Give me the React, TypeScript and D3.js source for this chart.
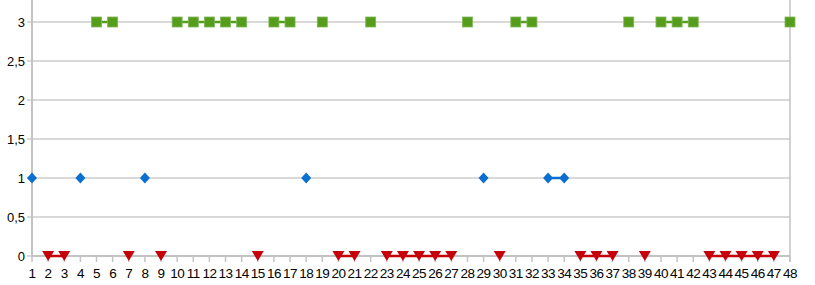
import React from "react";
import * as d3 from "d3";

const categories = ["1","2","3","4","5","6","7","8","9","10","11","12","13","14","15","16","17","18","19","20","21","22","23","24","25","26","27","28","29","30","31","32","33","34","35","36","37","38","39","40","41","42","43","44","45","46","47","48"];
const _ = null;
// value per category, null = empty cell
const greenSeries: (number | null)[] = [_,_,_,_,3,3,_,_,_,3,3,3,3,3,_,3,3,_,3,_,_,3,_,_,_,_,_,3,_,_,3,3,_,_,_,_,_,3,_,3,3,3,_,_,_,_,_,3];
const blueSeries: (number | null)[] = [1,_,_,1,_,_,_,1,_,_,_,_,_,_,_,_,_,1,_,_,_,_,_,_,_,_,_,_,1,_,_,_,1,1,_,_,_,_,_,_,_,_,_,_,_,_,_,_];
const redSeries: (number | null)[] = [_,0,0,_,_,_,0,_,0,_,_,_,_,_,0,_,_,_,_,0,0,_,0,0,0,0,0,_,_,0,_,_,_,_,0,0,0,_,0,_,_,_,0,0,0,0,0,_];
const yTicks = [0, 0.5, 1, 1.5, 2, 2.5, 3];

const W = 815, H = 285;
const left = 32, right = 790, top = 0, bottom = 256;

export default function App() {
  const x = d3.scalePoint<string>().domain(categories).range([left, right]).padding(0);
  const y = d3.scaleLinear().domain([0, 3]).range([bottom, 22]);
  const fmt = (v: number) => String(v).replace(".", ",");

  const mkLine = () =>
    d3.line<number | null>()
      .defined((d) => d !== null)
      .x((_d, i) => x(categories[i])!)
      .y((d) => y(d as number));

  const green = "#579d1c";
  const blue = "#0a6fd0";
  const red = "#c5000b";

  return (
    <svg width={W} height={H} style={{ position: "absolute", left: 0, top: 0, fontFamily: "'Liberation Sans', Arial, sans-serif" }}>
      <rect x={0} y={0} width={W} height={H} fill="#fff" />
      {yTicks.map((t) => (
        <g key={t}>
          <line x1={left - 5} x2={right} y1={y(t)} y2={y(t)} stroke="#b3b3b3" strokeWidth={1.2} />
          <text x={25} y={y(t) + 4.5} textAnchor="end" fontSize={13} fill="#000">{fmt(t)}</text>
        </g>
      ))}
      <line x1={left} x2={left} y1={top} y2={bottom + 1} stroke="#c3c3c3" strokeWidth={2} />
      <line x1={right} x2={right} y1={top} y2={bottom + 6} stroke="#c3c3c3" strokeWidth={1.5} />
      <line x1={left} x2={right} y1={bottom} y2={bottom} stroke="#c3c3c3" strokeWidth={2} />
      {categories.map((c) => (
        <g key={c}>
          <line x1={x(c)!} x2={x(c)!} y1={bottom} y2={bottom + 6} stroke="#c3c3c3" strokeWidth={1.5} />
          <text x={x(c)!} y={278} textAnchor="middle" fontSize={13.5} fill="#000" letterSpacing={-0.5}>{c}</text>
        </g>
      ))}
      <path d={mkLine()(greenSeries) || ""} fill="none" stroke={green} strokeWidth={2.5} />
      <path d={mkLine()(blueSeries) || ""} fill="none" stroke={blue} strokeWidth={2.5} />
      <path d={mkLine()(redSeries) || ""} fill="none" stroke={red} strokeWidth={2.5} />
      {greenSeries.map((v, i) =>
        v === null ? null : (
          <rect key={"g" + i} x={x(categories[i])! - 5} y={y(v) - 5} width={10} height={10} fill={green} stroke="#7fb75a" strokeWidth={0.8} />
        )
      )}
      {blueSeries.map((v, i) => {
        if (v === null) return null;
        const cx = x(categories[i])!, cy = y(v);
        return <path key={"b" + i} d={`M${cx},${cy - 5.5}L${cx + 5},${cy}L${cx},${cy + 5.5}L${cx - 5},${cy}Z`} fill={blue} />;
      })}
      {redSeries.map((v, i) => {
        if (v === null) return null;
        const cx = x(categories[i])!, cy = y(v);
        return <path key={"r" + i} d={`M${cx - 6},${cy - 5}L${cx + 6},${cy - 5}L${cx},${cy + 5}Z`} fill={red} />;
      })}
    </svg>
  );
}
